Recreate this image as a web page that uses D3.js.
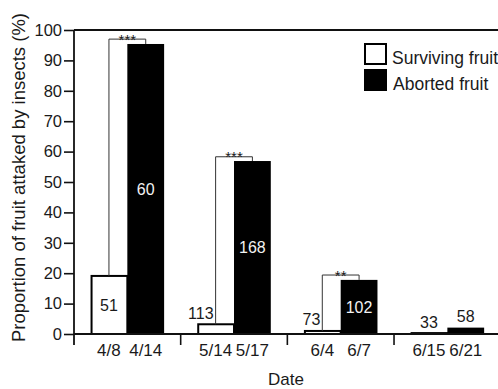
<!DOCTYPE html>
<html>
<head>
<meta charset="utf-8">
<script src="https://cdn.jsdelivr.net/npm/d3@7"></script>
<style>
  html, body { margin: 0; padding: 0; background: #fff; }
  svg { display: block; }
  text { font-family: "Liberation Sans", Arial, Helvetica, sans-serif; fill: #1a1a1a; font-weight: normal; }
</style>
</head>
<body>
<svg id="chart" width="498" height="389"></svg>
<script>
// Sampling periods: each pairs a surviving-fruit date with an aborted-fruit date
const groups = ["g1", "g2", "g3", "g4"];
const survivingDates = ["4/8", "5/14", "6/4", "6/15"];
const abortedDates = ["4/14", "5/17", "6/7", "6/21"];

// Proportion of fruit attacked by insects (%)
const survivingPct = [19.1, 3.2, 1.0, 0.3];
const abortedPct = [95.4, 56.9, 17.8, 2.1];

// Sample sizes (n) for each bar
const survivingN = [51, 113, 73, 33];
const abortedN = [60, 168, 102, 58];

// Significance between surviving and aborted fruit, and bracket height (%)
const significance = ["***", "***", "**", ""];
const bracketPct = [97.0, 58.3, 19.4, null];

const yTicks = [0, 10, 20, 30, 40, 50, 60, 70, 80, 90, 100];
const seriesKeys = ["surviving", "aborted"];
const legendLabels = ["Surviving fruit", "Aborted fruit"];

const svg = d3.select("#chart");
const plotLeft = 74, plotRight = 500.7, plotTop = 30, plotBottom = 334;

const y = d3.scaleLinear().domain([0, 100]).range([plotBottom, plotTop]);
const x0 = d3.scaleBand().domain(groups).range([plotLeft, plotRight]).paddingInner(0).paddingOuter(0);
const x1 = d3.scaleBand().domain(seriesKeys).range([0, x0.bandwidth()])
  .paddingInner(0).paddingOuter(0.45);

const rows = groups.map((g, i) => ({
  g, i,
  surviving: survivingPct[i], aborted: abortedPct[i],
  sDate: survivingDates[i], aDate: abortedDates[i],
  sN: survivingN[i], aN: abortedN[i],
  sig: significance[i], br: bracketPct[i]
}));

const cx = (d, key) => x0(d.g) + x1(key) + x1.bandwidth() / 2;

// Top frame line
svg.append("line")
  .attr("x1", plotLeft).attr("x2", 498).attr("y1", plotTop).attr("y2", plotTop)
  .attr("stroke", "#111").attr("stroke-width", 1.8);

// Y axis
const yAxis = svg.append("g")
  .attr("transform", `translate(${plotLeft},0)`)
  .call(d3.axisLeft(y).tickValues(yTicks).tickSize(10).tickPadding(2).tickFormat(d3.format("d")));
yAxis.select(".domain").remove();
yAxis.selectAll(".tick line").attr("stroke", "#111").attr("stroke-width", 1.6);
yAxis.selectAll(".tick text").style("font-size", "16.5px").attr("fill", "#1a1a1a");
svg.append("line")
  .attr("x1", plotLeft).attr("x2", plotLeft).attr("y1", plotTop).attr("y2", plotBottom + 11)
  .attr("stroke", "#111").attr("stroke-width", 1.8);

// Bars: aborted (filled black)
svg.append("g").selectAll("rect").data(rows).join("rect")
  .attr("x", d => x0(d.g) + x1("aborted"))
  .attr("y", d => y(d.aborted))
  .attr("width", x1.bandwidth())
  .attr("height", d => y(0) - y(d.aborted))
  .attr("fill", "#000");

// Bars: surviving (white with black outline)
svg.append("g").selectAll("rect").data(rows).join("rect")
  .attr("x", d => x0(d.g) + x1("surviving") + 1)
  .attr("y", d => y(d.surviving))
  .attr("width", x1.bandwidth() - 1)
  .attr("height", d => Math.max(0, y(0) - y(d.surviving)))
  .attr("fill", "#fff").attr("stroke", "#000").attr("stroke-width", 2);

// Baseline with group separator ticks
svg.append("line")
  .attr("x1", plotLeft).attr("x2", 498).attr("y1", plotBottom).attr("y2", plotBottom)
  .attr("stroke", "#111").attr("stroke-width", 1.8);
svg.append("g").selectAll("line").data(groups.slice(1)).join("line")
  .attr("x1", d => x0(d)).attr("x2", d => x0(d))
  .attr("y1", plotBottom).attr("y2", plotBottom + 11)
  .attr("stroke", "#111").attr("stroke-width", 1.6);

// Significance brackets
const withBracket = rows.filter(d => d.br != null);
svg.append("g").selectAll("path").data(withBracket).join("path")
  .attr("d", d => {
    const xa = cx(d, "surviving"), xb = cx(d, "aborted");
    return `M${xa},${y(d.surviving)}V${y(d.br)}H${xb}V${y(d.aborted)}`;
  })
  .attr("fill", "none").attr("stroke", "#333").attr("stroke-width", 1);
svg.append("g").selectAll("text").data(withBracket).join("text")
  .attr("x", d => (cx(d, "surviving") + cx(d, "aborted")) / 2)
  .attr("y", d => y(d.br) + 5.5)
  .attr("text-anchor", "middle")
  .style("font-size", "15px")
  .text(d => d.sig);

// Sample-size labels
const labelSize = 16;
rows.forEach(d => {
  seriesKeys.forEach(key => {
    const v = d[key];
    const n = key === "surviving" ? d.sN : d.aN;
    const xc = cx(d, key);
    const t = svg.append("text").style("font-size", labelSize + "px").text(n);
    if (v > 10) {
      t.attr("x", xc).attr("y", y(v / 2) + labelSize * 0.36)
        .attr("text-anchor", "middle")
        .style("fill", key === "aborted" ? "#f2f2f2" : "#1a1a1a");
    } else if (key === "surviving" && d.br != null) {
      t.attr("x", xc - 2).attr("y", y(v) - 5.5).attr("text-anchor", "end");
    } else {
      t.attr("x", xc).attr("y", y(v) - 5.5).attr("text-anchor", "middle");
    }
  });
});

// Date labels under each bar
rows.forEach(d => {
  [["surviving", d.sDate], ["aborted", d.aDate]].forEach(([key, label]) => {
    svg.append("text")
      .attr("x", cx(d, key)).attr("y", 356)
      .attr("text-anchor", "middle")
      .style("font-size", "17px")
      .text(label);
  });
});

// Axis titles
svg.append("text")
  .attr("x", 286).attr("y", 384.5)
  .attr("text-anchor", "middle")
  .style("font-size", "17px")
  .text("Date");
svg.append("text")
  .attr("transform", "translate(25,177.5) rotate(-90)")
  .attr("text-anchor", "middle")
  .style("font-size", "18.5px")
  .text("Proportion of fruit attaked by insects (%)");

// Legend
const legend = svg.append("g").attr("transform", "translate(365,44)");
legendLabels.forEach((label, i) => {
  const row = legend.append("g").attr("transform", `translate(0,${i * 26})`);
  row.append("rect")
    .attr("x", 0).attr("y", 0).attr("width", 21).attr("height", 20)
    .attr("fill", i === 0 ? "#fff" : "#000")
    .attr("stroke", "#000").attr("stroke-width", 2);
  row.append("text")
    .attr("x", i === 0 ? 27 : 28).attr("y", i === 0 ? 19.5 : 20)
    .style("font-size", "17.5px")
    .text(label);
});
</script>
</body>
</html>
